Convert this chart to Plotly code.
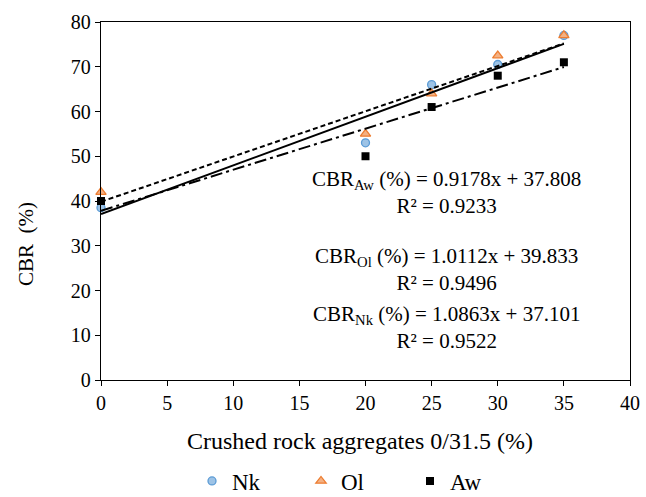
import numpy as np
import plotly.graph_objects as go

# Crushed rock aggregate content (%)
x_vals = [0, 20, 25, 30, 35]

# Measured CBR (%) per soil
cbr_nk = [38.5, 53, 66, 70.5, 77]
cbr_ol = [42, 55, 64, 72.5, 77]
cbr_aw = [40, 50, 61, 68, 71]

# Linear trend coefficients (slope, intercept, R²)
fit_nk = (1.0863, 37.101, 0.9522)
fit_ol = (1.0112, 39.833, 0.9496)
fit_aw = (0.9178, 37.808, 0.9233)

FONT = "Liberation Serif, Times New Roman, serif"

# plot area in pixels
L, R, T, B = 101, 630, 22, 380
W, H = 646, 497

fig = go.Figure()

fig.add_trace(go.Scatter(
    x=x_vals, y=cbr_nk, mode="markers", name="Nk", cliponaxis=False,
    marker=dict(symbol="circle", size=8, color="#9DC3E6",
                line=dict(color="#5B9BD5", width=1.3)),
))
fig.add_trace(go.Scatter(
    x=x_vals, y=cbr_ol, mode="markers", name="Ol", cliponaxis=False,
    marker=dict(symbol="triangle-up", size=9, color="#F4B183",
                line=dict(color="#ED7D31", width=1.3)),
))
fig.add_trace(go.Scatter(
    x=x_vals, y=cbr_aw, mode="markers", name="Aw", cliponaxis=False,
    marker=dict(symbol="square", size=8, color="#000000"),
))

# Trend lines
xl = np.array([0, 35])
for (m, b, _), dash in [(fit_nk, "solid"), (fit_ol, "5px,3px"), (fit_aw, "12px,4px,3px,4px")]:
    fig.add_trace(go.Scatter(
        x=xl, y=m * xl + b, mode="lines", showlegend=False,
        line=dict(color="#000000", width=2, dash=dash),
        hoverinfo="skip",
    ))

def eq_text(sub, fit):
    m, b, r2 = fit
    return f"CBR<sub>{sub}</sub> (%) = {m:.4f}x + {b:.3f}<br>R² = {r2:.4f}"

for sub, fit, yy in [("Aw", fit_aw, 192), ("Ol", fit_ol, 269), ("Nk", fit_nk, 327)]:
    fig.add_annotation(
        text=eq_text(sub, fit), xref="paper", yref="paper",
        x=(446 - L) / (R - L), y=(B - yy) / (B - T),
        showarrow=False, align="center", xanchor="center", yanchor="middle",
        font=dict(family=FONT, size=21, color="#000000"),
    )

# Axis titles
fig.add_annotation(
    text="Crushed rock aggregates 0/31.5 (%)", xref="paper", yref="paper",
    x=(360 - L) / (R - L), y=(B - 441) / (B - T), showarrow=False,
    xanchor="center", yanchor="middle",
    font=dict(family=FONT, size=24, color="#000000"),
)
fig.add_annotation(
    text="CBR  (%)", xref="paper", yref="paper", textangle=-90,
    x=(26 - L) / (R - L), y=(B - 244) / (B - T), showarrow=False,
    xanchor="center", yanchor="middle",
    font=dict(family=FONT, size=21, color="#000000"),
)

axis_common = dict(
    showgrid=False, zeroline=False, showline=True, linecolor="#000000",
    linewidth=1.3, mirror=True, ticks="outside", ticklen=5, automargin=False,
    tickcolor="#000000", tickfont=dict(family=FONT, size=20, color="#000000"),
)

fig.update_layout(
    width=W, height=H,
    margin=dict(l=L, r=W - R, t=T, b=H - B),
    font=dict(family=FONT, color="#000000"),
    plot_bgcolor="white", paper_bgcolor="white",
    xaxis=dict(range=[0, 40], dtick=5, **axis_common),
    yaxis=dict(range=[0, 80], dtick=10, **axis_common),
    legend=dict(orientation="h", xref="container", x=192 / W, xanchor="left",
                yref="container", y=1 - 481 / H, yanchor="middle",
                entrywidth=64, entrywidthmode="pixels", itemwidth=30,
                font=dict(family=FONT, size=23, color="#000000"),
                tracegroupgap=0, bgcolor="rgba(0,0,0,0)"),
    showlegend=True,
)

fig.write_html("out.html")
